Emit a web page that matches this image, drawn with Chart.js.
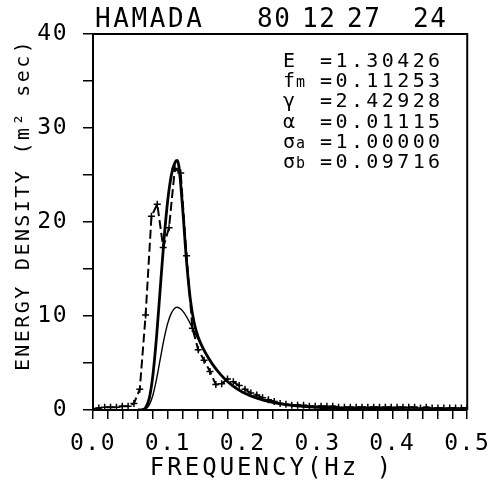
<!DOCTYPE html>
<html lang="en">
<head>
    <meta charset="UTF-8">
    <title>HAMADA 80 12 27 24</title>
    <script src="https://cdn.jsdelivr.net/npm/chart.js"></script>
    <style>
        body { margin: 0; padding: 0; background: #fff; }
        #wrap { width: 499px; height: 483px; }
    </style>
</head>
<body>
    <div id="wrap">
        <canvas id="spectrumChart" width="499" height="483"></canvas>
    </div>

    <script>
        // observed spectrum (dashed, + markers), df = 1/128 Hz
        const obsFreq = [
            0, 0.0078, 0.0156, 0.0234, 0.0313, 0.0391, 0.0469, 0.0547, 0.0625, 0.0703,
            0.0781, 0.0859, 0.0938, 0.1016, 0.1094, 0.1172, 0.125, 0.1328, 0.1406, 0.1484,
            0.1563, 0.1641, 0.1719, 0.1797, 0.1875, 0.1953, 0.2031, 0.2109, 0.2188, 0.2266,
            0.2344, 0.2422, 0.25, 0.2578, 0.2656, 0.2734, 0.2813, 0.2891, 0.2969, 0.3047,
            0.3125, 0.3203, 0.3281, 0.3359, 0.3438, 0.3516, 0.3594, 0.3672, 0.375, 0.3828,
            0.3906, 0.3984, 0.4063, 0.4141, 0.4219, 0.4297, 0.4375, 0.4453, 0.4531, 0.4609,
            0.4688, 0.4766, 0.4844, 0.4922, 0.5
        ];
        const obsDensity = [
            0.1, 0.2, 0.3, 0.3, 0.3, 0.4, 0.4, 0.7, 2.2, 10.1,
            20.6, 21.9, 17.3, 19.4, 25.7, 25.2, 16.4, 8.7, 6.4, 5.3,
            4.1, 2.7, 2.8, 3.3, 3.0, 2.6, 2.2, 1.8, 1.6, 1.3,
            1.1, 0.9, 0.7, 0.6, 0.5, 0.5, 0.5, 0.4, 0.4, 0.4,
            0.4, 0.4, 0.3, 0.3, 0.3, 0.3, 0.3, 0.3, 0.3, 0.3,
            0.3, 0.3, 0.3, 0.3, 0.3, 0.3, 0.2, 0.3, 0.2, 0.2,
            0.2, 0.2, 0.2, 0.2, 0.2
        ];

        // fitted curves (thick = JONSWAP fit, thin = PM)
        const fitFreq = [
            0.06, 0.065, 0.07, 0.075, 0.08, 0.085, 0.09, 0.095, 0.10, 0.105,
            0.11, 0.1125, 0.115, 0.12, 0.125, 0.13, 0.135, 0.14, 0.145, 0.15,
            0.16, 0.17, 0.18, 0.19, 0.20, 0.22, 0.24, 0.26, 0.28, 0.30,
            0.35, 0.40, 0.45, 0.50
        ];
        const fitJonswap = [
            0, 0.02, 0.22, 1.19, 3.69, 7.88, 13.1, 18.25, 22.4, 25.1,
            26.4, 26.55, 25.8, 21.2, 15.8, 11.8, 9.34, 7.88, 6.9, 6.12,
            4.83, 3.81, 3.01, 2.38, 1.90, 1.23, 0.81, 0.55, 0.39, 0.28,
            0.13, 0.07, 0.04, 0.02
        ];
        const fitPM = [
            0, 0.01, 0.10, 0.52, 1.57, 3.33, 5.49, 7.59, 9.27, 10.36,
            10.87, 10.93, 10.87, 10.52, 9.92, 9.19, 8.39, 7.59, 6.82, 6.10,
            4.83, 3.81, 3.01, 2.38, 1.90, 1.23, 0.81, 0.55, 0.39, 0.28,
            0.13, 0.07, 0.04, 0.02
        ];

        const paramNames = ['E', 'f', 'γ', 'α', 'σ', 'σ'];
        const paramSubs = ['', 'm', '', '', 'a', 'b'];
        const paramValues = ['=1.30426', '=0.11253', '=2.42928', '=0.01115', '=1.00000', '=0.09716'];

        const MONO = "'DejaVu Sans Mono', monospace";

        const pts = (xs, ys) => xs.map((x, i) => ({ x: x, y: ys[i] }));

        // frame + all free text
        const textPlugin = {
            id: 'plotterText',
            beforeDraw(chart) {
                chart.ctx.letterSpacing = '1.5px';
            },
            afterDraw(chart) {
                const ctx = chart.ctx;
                const a = chart.chartArea;
                ctx.save();
                ctx.strokeStyle = '#000';
                ctx.lineWidth = 2;
                ctx.beginPath();
                ctx.moveTo(a.left, a.top);
                ctx.lineTo(a.right, a.top);
                ctx.lineTo(a.right, a.bottom);
                ctx.stroke();

                ctx.fillStyle = '#000';
                ctx.textBaseline = 'alphabetic';

                // header
                ctx.font = '26px ' + MONO;
                ctx.letterSpacing = '2.6px';
                ctx.textAlign = 'left';
                ctx.fillText('HAMADA', 95, 27);
                ctx.letterSpacing = '1.5px';
                ctx.fillText('80', 257, 27);
                ctx.fillText('12', 302, 27);
                ctx.fillText('27', 347, 27);
                ctx.fillText('24', 413, 27);

                // parameter block
                for (let i = 0; i < paramNames.length; i++) {
                    const y = 67 + i * 20.2;
                    ctx.letterSpacing = '0px';
                    ctx.font = '20px ' + MONO;
                    ctx.fillText(paramNames[i], 283, y);
                    if (paramSubs[i]) {
                        ctx.font = '15px ' + MONO;
                        ctx.fillText(paramSubs[i], 296, y);
                    }
                    ctx.font = '20px ' + MONO;
                    ctx.letterSpacing = '3.4px';
                    ctx.fillText(paramValues[i], 320, y);
                }

                // axis titles
                ctx.font = '24px ' + MONO;
                ctx.letterSpacing = '3px';
                ctx.textAlign = 'center';
                ctx.fillText('FREQUENCY(Hz )', 272, 475);

                ctx.translate(29, 205);
                ctx.rotate(-Math.PI / 2);
                ctx.font = '20px ' + MONO;
                ctx.letterSpacing = '2.4px';
                ctx.fillText('ENERGY DENSITY (m² sec)', 0, 0);
                ctx.restore();
                ctx.letterSpacing = '0px';
            }
        };

        const ctx = document.getElementById('spectrumChart').getContext('2d');
        new Chart(ctx, {
            type: 'scatter',
            data: {
                datasets: [
                    {
                        label: 'observed',
                        data: pts(obsFreq, obsDensity),
                        showLine: true,
                        borderColor: '#000',
                        borderWidth: 2,
                        borderDash: [9, 4],
                        tension: 0,
                        pointStyle: 'cross',
                        pointRadius: 3.5,
                        pointBorderWidth: 1.5,
                        pointBorderColor: '#000'
                    },
                    {
                        label: 'JONSWAP',
                        data: pts(fitFreq, fitJonswap),
                        showLine: true,
                        borderColor: '#000',
                        borderWidth: 2.8,
                        cubicInterpolationMode: 'monotone',
                        pointRadius: 0
                    },
                    {
                        label: 'PM',
                        data: pts(fitFreq, fitPM),
                        showLine: true,
                        borderColor: '#000',
                        borderWidth: 1.4,
                        cubicInterpolationMode: 'monotone',
                        pointRadius: 0
                    }
                ]
            },
            options: {
                responsive: false,
                animation: false,
                devicePixelRatio: 1,
                layout: { padding: { left: 0, right: 26, top: 34, bottom: 0 } },
                plugins: {
                    legend: { display: false },
                    tooltip: { enabled: false }
                },
                scales: {
                    x: {
                        type: 'linear',
                        min: 0,
                        max: 0.5,
                        afterFit: (scale) => { scale.height = 73; },
                        border: { display: true, color: '#000', width: 2 },
                        grid: { drawOnChartArea: false, drawTicks: true, tickLength: 9, color: '#000', lineWidth: 1.5 },
                        ticks: {
                            stepSize: 0.02,
                            autoSkip: false,
                            maxRotation: 0,
                            padding: 11,
                            color: '#000',
                            font: { family: MONO, size: 23 },
                            callback: (v) => (Math.round(v * 100) % 10 === 0 ? v.toFixed(1) : '')
                        }
                    },
                    y: {
                        min: 0,
                        max: 40,
                        afterFit: (scale) => { scale.width = 93; },
                        border: { display: true, color: '#000', width: 2 },
                        grid: { drawOnChartArea: false, drawTicks: true, tickLength: 10, color: '#000', lineWidth: 1.5 },
                        ticks: {
                            stepSize: 5,
                            padding: 15,
                            color: '#000',
                            font: { family: MONO, size: 23 },
                            callback: (v) => (v % 10 === 0 ? String(v) : '')
                        }
                    }
                }
            },
            plugins: [textPlugin]
        });
    </script>
</body>
</html>
